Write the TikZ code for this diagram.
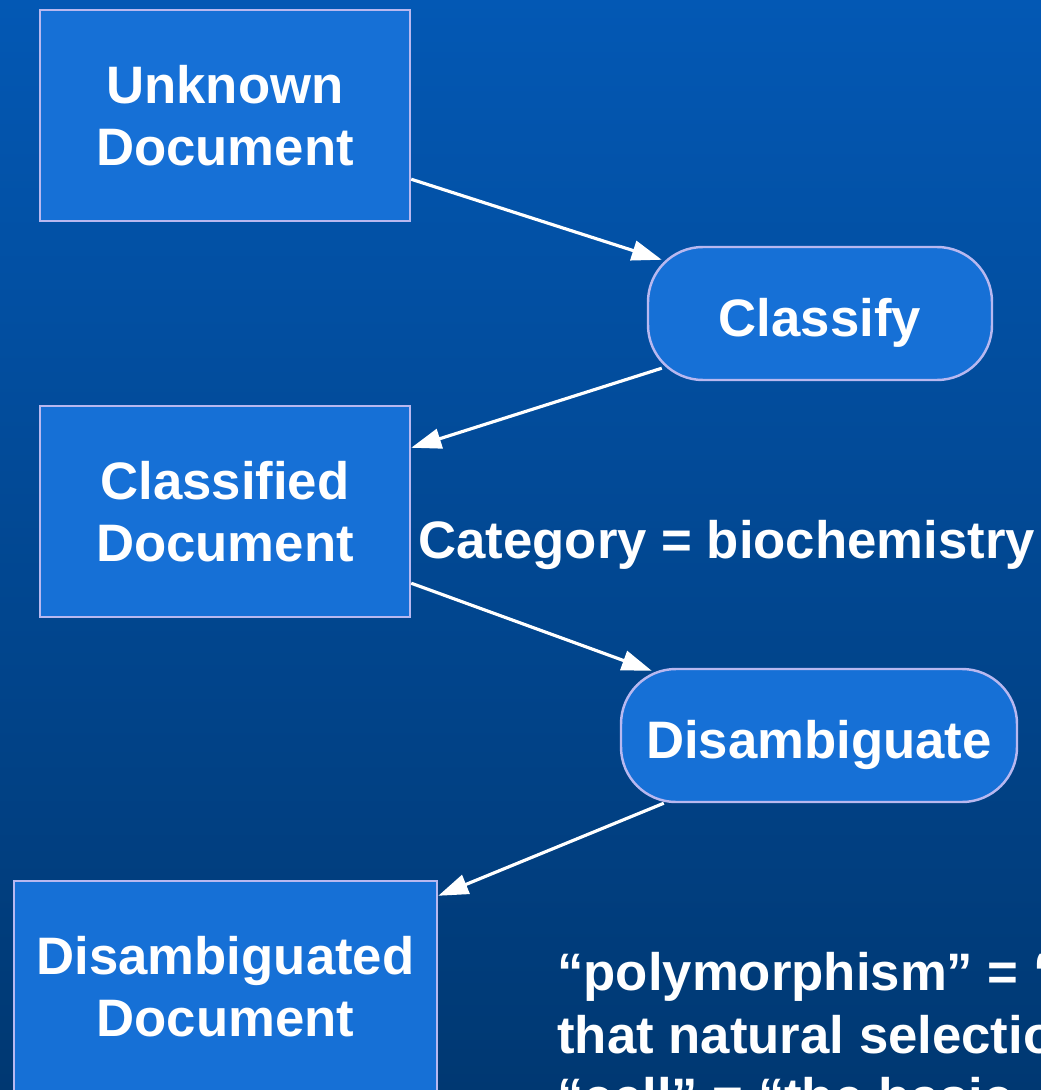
\documentclass[tikz,border=0pt]{standalone}
\usepackage{fontspec}
\setmainfont{Liberation Sans}
\usetikzlibrary{arrows.meta,calc}
\definecolor{bgtop}{RGB}{3,88,180}
\definecolor{bgbot}{RGB}{0,56,114}
\definecolor{boxfill}{RGB}{22,112,214}
\definecolor{boxline}{RGB}{184,184,240}

\begin{document}
\begin{tikzpicture}[
  bigtext/.style={font=\bfseries\fontsize{30}{35.6}\selectfont},
  doc/.style={bigtext, draw=boxline, line width=1.4pt, fill=boxfill, text=white, align=center, minimum width=7.4cm, minimum height=4.22cm},
  proc/.style={bigtext, draw=boxline, line width=1.4pt, fill=boxfill, text=white, rounded corners=1.1cm, minimum height=2.66cm, text height=0.92cm, text depth=0cm},
  flow/.style={white, line width=1.8pt, -{Triangle[length=0.6cm,width=0.4cm]}},
  note/.style={bigtext, text=white, inner sep=0pt}
]
  \useasboundingbox (0,0) rectangle (20.82,-21.8);
  \clip (0,0) rectangle (20.82,-21.8);
  \shade[top color=bgtop, bottom color=bgbot] (0,0) rectangle (20.82,-21.8);

  % documents on the left, steps on the right
  \node[doc] (unk) at (4.5,-2.31) {Unknown\\Document};
  \node[proc, minimum width=6.88cm] (cls) at (16.4,-6.27) {Classify};
  \node[doc] (clsd) at (4.5,-10.23) {Classified\\Document};
  \node[proc, minimum width=7.92cm] (dis) at (16.38,-14.71) {Disambiguate};
  \node[doc, minimum width=8.46cm] (dsd) at (4.51,-19.73) {Disambiguated\\Document};

  \node[note, anchor=base west] (cat) at (8.36,-11.16) {Category = biochemistry};
  \node[note, anchor=north west, align=left] (sense) at (11.14,-19.04)
    {“polymorphism” = “\\that natural selection\\“cell” = “the basic};

  \draw[flow] ($(unk.south east)+(0,0.86)$) -- ($(cls.north west)+(0.3,-0.28)$);
  \draw[flow] ($(cls.south west)+(0.3,0.26)$) -- ($(clsd.north east)+(0,-0.86)$);
  \draw[flow] ($(clsd.south east)+(0,0.7)$) -- ($(dis.north west)+(0.64,-0.06)$);
  \draw[flow] ($(dis.south west)+(0.88,0)$) -- ($(dsd.north east)+(0,-0.32)$);
\end{tikzpicture}
\end{document}
